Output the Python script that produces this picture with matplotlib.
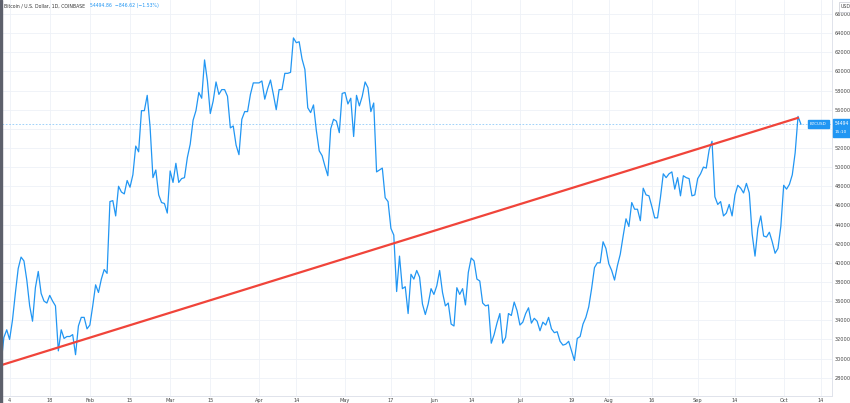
import numpy as np
import pandas as pd
import matplotlib
matplotlib.use("Agg")
import matplotlib.pyplot as plt
from matplotlib.patches import Rectangle

# daily closes, BTC/USD (Coinbase)
jan = [29400, 32200, 33000, 31990, 34000, 36800, 39400, 40600, 40200, 38200,
       35500, 33900, 37400, 39100, 36800, 36000, 35800, 36600, 36000, 35500,
       30800, 33000, 32100, 32300, 32300, 32500, 30400, 33400, 34300, 34300,
       33100]
feb = [33500, 35500, 37700, 36900, 38300, 39300, 38900, 46400, 46500, 44900,
       48000, 47400, 47200, 48600, 47900, 49200, 52200, 51600, 55900, 55900,
       57500, 54200, 48900, 49700, 47100, 46300, 46200, 45200]
mar = [49600, 48400, 50400, 48400, 48800, 48900, 51000, 52400, 54900, 55900,
       57800, 57200, 61200, 59000, 55600, 56900, 58900, 57600, 58100, 58100,
       57400, 54100, 54300, 52300, 51300, 55000, 55800, 55800, 57600, 58800,
       58800]
apr = [58800, 59000, 57100, 58200, 59100, 57600, 56000, 58100, 58100, 59800,
       59800, 59900, 63500, 63000, 63100, 61300, 60200, 56200, 55700, 56500,
       53800, 51700, 51200, 50100, 49100, 54000, 55000, 54800, 53600, 57700]
may = [57800, 56600, 57200, 53200, 57500, 56400, 57400, 58900, 58300, 55800,
       56700, 49500, 49700, 49900, 46800, 46400, 43600, 42900, 37000, 40700,
       37300, 37500, 34700, 38800, 38300, 39200, 38500, 35700, 34600, 35700,
       37300]
jun = [36700, 37600, 39200, 36900, 35500, 35800, 33600, 33400, 37400, 36700,
       37300, 35600, 39000, 40500, 40200, 38300, 38100, 35800, 35500, 35600,
       31600, 32500, 33700, 34700, 31600, 32200, 34700, 34500, 35900, 35000]
jul = [33500, 33800, 34700, 35300, 33700, 34200, 33900, 32900, 33800, 33500,
       34300, 33100, 32700, 32800, 31800, 31400, 31500, 31800, 30800, 29800,
       32100, 32300, 33600, 34300, 35400, 37300, 39500, 40000, 40000, 42200,
       41500]
aug = [39900, 39200, 38200, 39700, 40900, 42800, 44600, 43800, 46300, 45600,
       45600, 44400, 47800, 47100, 47000, 45900, 44700, 44700, 46800, 49300,
       48900, 49300, 49500, 47700, 48900, 47000, 49100, 48900, 48800, 47000,
       47100]
sep = [48800, 49300, 50000, 49900, 51800, 52700, 46900, 46100, 46400, 44900,
       45200, 46100, 44900, 47100, 48100, 47800, 47300, 48300, 47300, 43000,
       40700, 43600, 44900, 42800, 42700, 43200, 42200, 41000, 41500, 43800]
oct_ = [48100, 47700, 48200, 49200, 51500, 55300, 54495]

closes = np.array(jan + feb + mar + apr + may + jun + jul + aug + sep + oct_)
dates = pd.date_range("2021-01-01", periods=len(closes), freq="D")

# trend line drawn on the chart
trend_dates = pd.to_datetime(["2021-01-01", "2021-10-06"])
trend_vals = [29300, 55150]

last_price = 54494.86
y_ticks = list(range(28000, 68000, 2000))
x_tick_dates = ["2021-01-04", "2021-01-18", "2021-02-01", "2021-02-15",
                "2021-03-01", "2021-03-15", "2021-04-01", "2021-04-14",
                "2021-05-01", "2021-05-17", "2021-06-01", "2021-06-14",
                "2021-07-01", "2021-07-19", "2021-08-01", "2021-08-16",
                "2021-09-01", "2021-09-14", "2021-10-01", "2021-10-14"]
x_tick_labels = ["4", "18", "Feb", "15", "Mar", "15", "Apr", "14", "May", "17",
                 "Jun", "14", "Jul", "19", "Aug", "16", "Sep", "14", "Oct", "14"]

W, H = 850, 403
fig = plt.figure(figsize=(W / 100, H / 100), dpi=100)
fig.patch.set_facecolor("white")
ax = fig.add_axes([2 / W, 7 / H, 830 / W, 396 / H])

blue = "#2196F3"
ax.plot(dates, closes, color=blue, lw=0.9, zorder=3)
ax.plot(trend_dates, trend_vals, color="#f0443a", lw=1.6, zorder=4,
        solid_capstyle="round")
ax.axhline(last_price, color=blue, lw=0.6, ls=(0, (2, 2)), alpha=0.5, zorder=2)

t0 = pd.Timestamp("2021-01-01")
ax.set_xlim(t0 + pd.Timedelta(days=0.35), t0 + pd.Timedelta(days=289.85))
ax.set_ylim(26084, 67463)

# 54000 sits under the last-price tag, so it is left blank
ax.set_yticks(y_ticks)
ax.set_yticklabels(["" if v == 54000 else str(v) for v in y_ticks])
ax.yaxis.tick_right()
ax.set_xticks(pd.to_datetime(x_tick_dates))
ax.set_xticklabels(x_tick_labels)
ax.tick_params(axis="both", length=0, labelsize=3.6, colors="#444444")
ax.tick_params(axis="y", pad=2)
ax.tick_params(axis="x", pad=1.5)
for lab in ax.get_yticklabels():
    lab.set_horizontalalignment("left")

ax.grid(True, color="#eef1f7", lw=0.6)
ax.set_axisbelow(True)
for side in ["top", "left"]:
    ax.spines[side].set_visible(False)
for side in ["right", "bottom"]:
    ax.spines[side].set_color("#e0e3eb")
    ax.spines[side].set_linewidth(0.7)

# left edge bar
fig.patches.append(Rectangle((0, 0), 2 / W, 1, transform=fig.transFigure,
                             color="#5d606b", zorder=10))

# symbol / price labels on the right
fig.patches.append(Rectangle((808 / W, 1 - 128 / H), 21 / W, 8 / H,
                             transform=fig.transFigure, color=blue, zorder=10))
fig.text(818.5 / W, 1 - 124 / H, "BTCUSD", color="white", fontsize=3.0,
         ha="center", va="center", zorder=11)
fig.patches.append(Rectangle((833 / W, 1 - 137 / H), 17 / W, 18 / H,
                             transform=fig.transFigure, color=blue, zorder=10))
fig.text(834.5 / W, 1 - 123.5 / H, "54494", color="white", fontsize=3.3,
         ha="left", va="center", zorder=11)
fig.text(834.5 / W, 1 - 132 / H, "15:10", color="white", fontsize=3.1,
         ha="left", va="center", zorder=11)
fig.patches.append(Rectangle((839 / W, 1 - 12 / H), 14 / W, 10 / H,
                             transform=fig.transFigure, facecolor="white",
                             edgecolor="#c8cbd3", lw=0.5, zorder=10))
fig.text(841 / W, 1 - 7 / H, "USD", color="#444444", fontsize=3.4,
         ha="left", va="center", zorder=11)

# header
fig.text(4 / W, 1 - 6 / H, "Bitcoin / U.S. Dollar, 1D, COINBASE",
         color="#333333", fontsize=3.3, ha="left", va="center")
fig.text(90 / W, 1 - 6 / H, "54494.86  \u2212846.62 (\u22121.53%)",
         color=blue, fontsize=3.3, ha="left", va="center")

fig.savefig("out.png", dpi=100)
